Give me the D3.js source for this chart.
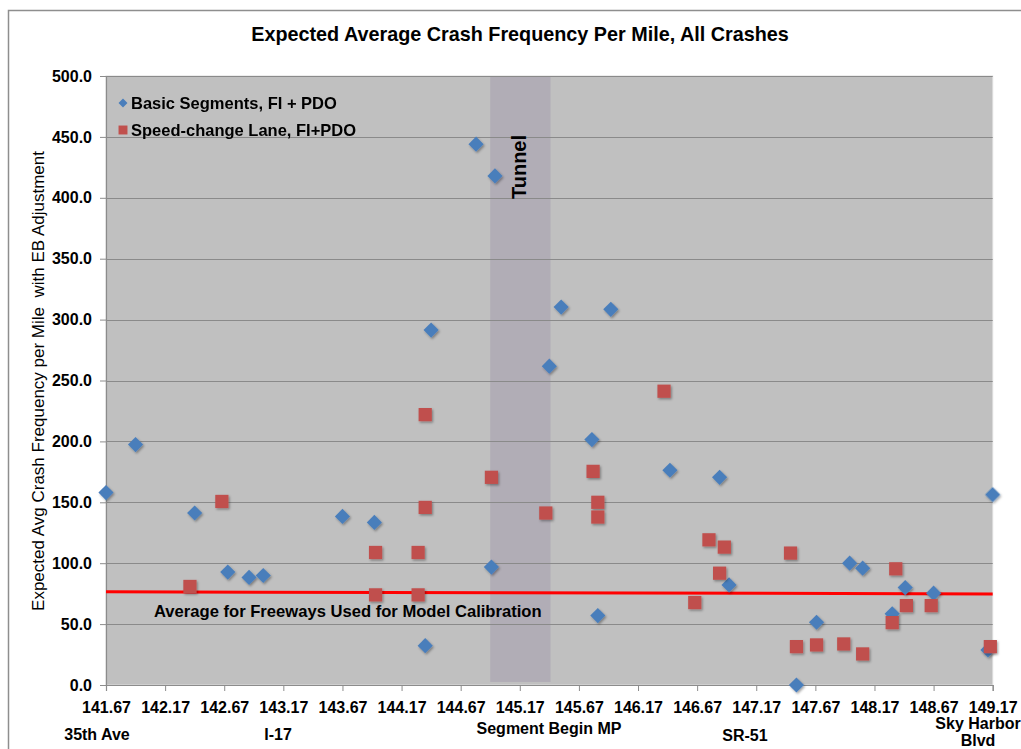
<!DOCTYPE html>
<html>
<head>
<meta charset="utf-8">
<script src="https://cdn.jsdelivr.net/npm/d3@7"></script>
<style>
  body { margin: 0; background: #fff; }
  svg text { font-family: "Liberation Sans", Arial, sans-serif; fill: #000; }
</style>
</head>
<body>
<div id="chart"></div>
<script>
// milepost + expected crash frequency
const basicMP = [141.67, 141.92, 142.42, 142.70, 142.88, 143.00, 143.67, 143.94, 144.37, 144.42,
  144.80, 144.93, 144.96, 145.42, 145.52, 145.78, 145.83, 145.94, 146.44, 146.86,
  146.94, 147.51, 147.68, 147.96, 148.07, 148.32, 148.43, 148.67, 149.13, 149.17];
const basicFreq = [158, 197.4, 141.2, 92.7, 88.3, 89.9, 138.4, 133.5, 32.3, 291.4,
  444, 96.8, 418, 261.8, 310.3, 201.5, 57, 308.4, 176.3, 170.5,
  82.2, 0, 51.5, 100, 95.9, 58.4, 80, 75.4, 28.8, 156.3];

const speedMP = [142.38, 142.65, 143.95, 143.95, 144.31, 144.31, 144.37, 144.37, 144.93, 145.39,
  145.79, 145.83, 145.83, 146.39, 146.65, 146.77, 146.86, 146.90, 147.46, 147.51,
  147.68, 147.91, 148.07, 148.32, 148.35, 148.44, 148.65, 149.15];
const speedFreq = [80.9, 150.7, 108.8, 74, 108.8, 74, 222, 145.8, 170.5, 141.2,
  175.4, 150, 137.9, 241.2, 67.7, 119.2, 91.8, 113.2, 108.3, 31.5,
  32.9, 33.7, 25.5, 51.2, 95.4, 65.2, 65.2, 31.5];

const avgMP = [141.67, 149.17];
const avgFreq = [76.5, 74.8];

const tunnelMP = [144.92, 145.43];
const tunnelFreq = [2.5, 500];

const xTicks = [141.67, 142.17, 142.67, 143.17, 143.67, 144.17, 144.67, 145.17,
  145.67, 146.17, 146.67, 147.17, 147.67, 148.17, 148.67, 149.17];
const yTicks = [0, 50, 100, 150, 200, 250, 300, 350, 400, 450, 500];

const seriesNames = ["Basic Segments, FI + PDO", "Speed-change Lane, FI+PDO"];
const placeNames = ["35th Ave", "I-17", "Segment Begin MP", "SR-51", ["Sky Harbor", "Blvd"]];

let w = 1021;
let h = 749;
let blue = "#4a7ebb";
let red = "#c0504d";

let svg = d3.select("#chart").append("svg")
  .attr("width", w)
  .attr("height", h);

let defs = svg.append("defs");
defs.append("filter")
  .attr("id", "shadow")
  .attr("x", "-50%").attr("y", "-50%").attr("width", "200%").attr("height", "200%")
  .append("feDropShadow")
  .attr("dx", 1.2).attr("dy", 1.5).attr("stdDeviation", 0.9)
  .attr("flood-color", "#000").attr("flood-opacity", 0.35);

// outer chart border
svg.append("rect")
  .attr("x", 8.5).attr("y", 10.5)
  .attr("width", w + 20).attr("height", h + 20)
  .attr("fill", "none")
  .attr("stroke", "#8e8e8e")
  .attr("stroke-width", 1.5);

let xScale = d3.scaleLinear().domain([141.67, 149.17]).range([106, 992.7]);
let yScale = d3.scaleLinear().domain([0, 500]).range([685, 76]);

// plot area
svg.append("rect")
  .attr("x", xScale.range()[0]).attr("y", yScale.range()[1])
  .attr("width", xScale.range()[1] - xScale.range()[0])
  .attr("height", yScale.range()[0] - yScale.range()[1])
  .attr("fill", "#c0c0c0")
  .attr("stroke", "#dcdcdc")
  .attr("stroke-width", 1);

// tunnel band
svg.append("rect")
  .attr("x", xScale(tunnelMP[0]))
  .attr("y", yScale(tunnelFreq[1]))
  .attr("width", xScale(tunnelMP[1]) - xScale(tunnelMP[0]))
  .attr("height", yScale(tunnelFreq[0]) - yScale(tunnelFreq[1]))
  .attr("fill", "#b1adb6");

// gridlines
svg.append("g")
  .selectAll("line")
  .data(yTicks.filter(d => d > 0))
  .join("line")
  .attr("x1", xScale.range()[0])
  .attr("x2", xScale.range()[1])
  .attr("y1", d => Math.round(yScale(d)) + 0.5)
  .attr("y2", d => Math.round(yScale(d)) + 0.5)
  .attr("stroke", "#8a8a8a")
  .attr("stroke-width", 1);

// axes
let yAxis = svg.append("g")
  .attr("transform", "translate(" + xScale.range()[0] + ",0)")
  .call(d3.axisLeft(yScale).tickValues(yTicks).tickFormat(d3.format(".1f")).tickSize(6).tickPadding(8));
let xAxis = svg.append("g")
  .attr("transform", "translate(0," + yScale.range()[0] + ")")
  .call(d3.axisBottom(xScale).tickValues(xTicks).tickFormat(d3.format(".2f")).tickSize(6).tickPadding(11));

[xAxis, yAxis].forEach(a => {
  a.select(".domain").attr("stroke", "#8c8c8c").attr("stroke-width", 1.2);
  a.selectAll(".tick line").attr("stroke", "#8c8c8c");
  a.selectAll(".tick text")
    .attr("fill", "#000")
    .style("font-size", "16px")
    .style("font-weight", "bold")
    .style("font-family", "'Liberation Sans', Arial, sans-serif");
});

// tunnel label
svg.append("text")
  .attr("transform", "translate(" + (xScale((tunnelMP[0] + tunnelMP[1]) / 2) - 1) + ",167) rotate(-90)")
  .attr("text-anchor", "middle")
  .attr("dy", "0.35em")
  .style("font-size", "20px")
  .style("font-weight", "bold")
  .text("Tunnel");

// average line
let avgPts = avgMP.map((d, i) => [d, avgFreq[i]]);
svg.append("path")
  .datum(avgPts)
  .attr("fill", "none")
  .attr("stroke", "#ff0000")
  .attr("stroke-width", 3)
  .attr("d", d3.line().x(d => xScale(d[0])).y(d => yScale(d[1])));

svg.append("text")
  .attr("x", 154)
  .attr("y", 617)
  .style("font-size", "16.6px")
  .style("font-weight", "bold")
  .text("Average for Freeways Used for Model Calibration");

// markers
let diamond = d3.symbol().type(d3.symbolSquare).size(115);
let square = d3.symbol().type(d3.symbolSquare).size(175);

svg.append("g")
  .attr("filter", "url(#shadow)")
  .selectAll("path")
  .data(basicMP.map((d, i) => [d, basicFreq[i]]))
  .join("path")
  .attr("d", diamond)
  .attr("transform", d => "translate(" + xScale(d[0]) + "," + yScale(d[1]) + ") rotate(45)")
  .attr("fill", blue);

svg.append("g")
  .attr("filter", "url(#shadow)")
  .selectAll("path")
  .data(speedMP.map((d, i) => [d, speedFreq[i]]))
  .join("path")
  .attr("d", square)
  .attr("transform", d => "translate(" + xScale(d[0]) + "," + yScale(d[1]) + ")")
  .attr("fill", red);

// legend
let legend = svg.append("g").attr("transform", "translate(123,103)");
legend.append("path")
  .attr("d", d3.symbol().type(d3.symbolSquare).size(40))
  .attr("transform", "rotate(45)")
  .attr("fill", blue);
legend.append("path")
  .attr("d", d3.symbol().type(d3.symbolSquare).size(80))
  .attr("transform", "translate(0,27)")
  .attr("fill", red);
legend.selectAll("text")
  .data(seriesNames)
  .join("text")
  .attr("x", 8)
  .attr("y", (d, i) => 5.5 + i * 27.5)
  .style("font-size", "16.5px")
  .style("font-weight", "bold")
  .text(d => d);

// title
svg.append("text")
  .attr("x", 520)
  .attr("y", 41)
  .attr("text-anchor", "middle")
  .style("font-size", "19.8px")
  .style("font-weight", "bold")
  .text("Expected Average Crash Frequency Per Mile, All Crashes");

// y axis title
svg.append("text")
  .attr("transform", "translate(44,381) rotate(-90)")
  .attr("text-anchor", "middle")
  .attr("xml:space", "preserve")
  .style("font-size", "17px")
  .text("Expected Avg Crash Frequency per Mile  with EB Adjustment");

// place names under the axis
let placePos = [[97, 740], [278, 740], [549, 734], [745, 741], [978, 729]];
placeNames.forEach((name, i) => {
  let t = svg.append("text")
    .attr("x", placePos[i][0])
    .attr("y", placePos[i][1])
    .attr("text-anchor", "middle")
    .style("font-size", "16px")
    .style("font-weight", "bold");
  if (Array.isArray(name)) {
    name.forEach((line, j) => {
      t.append("tspan").attr("x", placePos[i][0]).attr("dy", j === 0 ? 0 : 17).text(line);
    });
  } else {
    t.text(name);
  }
});
</script>
</body>
</html>
